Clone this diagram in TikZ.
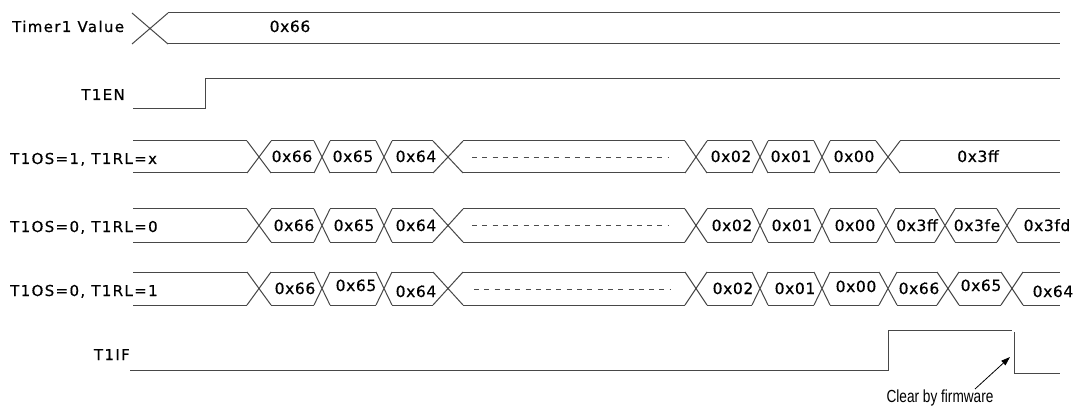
\documentclass[tikz,border=0pt]{standalone}
\usepackage{fontspec}
\setmainfont{DejaVu Sans}
\newfontfamily\lblfont{DejaVu Sans}[LetterSpace=9, FakeBold=0.5]
\newfontfamily\valfont{DejaVu Sans}[LetterSpace=4, FakeBold=0.5]
\newfontfamily\cfwfont{Liberation Sans}
\usetikzlibrary{arrows.meta}
\tikzset{
  sig/.style={draw=black!72, line width=1pt},
  lbl/.style={inner sep=0pt, font=\lblfont\fontsize{15}{18}\selectfont},
  val/.style={inner sep=0pt, anchor=base, font=\valfont\fontsize{15.5}{18}\selectfont},
  dots/.style={draw=black!70, line width=0.9pt, dash pattern=on 5pt off 5.3pt},
  note/.style={inner sep=0pt, anchor=base, font=\cfwfont\fontsize{17.5}{19}\selectfont},
  ptr/.style={draw=black, line width=0.8pt, -{Triangle[length=9pt,width=6pt]}}
}
\newcommand\busline[3]{%
  \foreach \xc/\hw [remember=\xc as \pc (initially 133), remember=\hw as \pw (initially 0)] in {#3} {
    \draw[sig] (\pc+\pw,#1) -- (\xc-\hw,#1) (\pc+\pw,#2) -- (\xc-\hw,#2);
    \ifdim\hw pt>0pt
      \draw[sig] (\xc-\hw,#1) -- (\xc+\hw,#2) (\xc-\hw,#2) -- (\xc+\hw,#1);
    \fi
  }}
\begin{document}
\begin{tikzpicture}[x=1pt,y=-1pt]
\fill[white] (0,0) rectangle (1073,406);
\useasboundingbox (0,0) rectangle (1073,406);

% labels
\node[lbl, anchor=base west] (tv) at (12,32) {Timer1 Value};
\node[lbl, anchor=base east] (ten) at (125,100) {T1EN};
\node[lbl, anchor=base west] (r1l) at (10,164) {T1OS=1, T1RL=x};
\node[lbl, anchor=base west] (r2l) at (10,232) {T1OS=0, T1RL=0};
\node[lbl, anchor=base west] (r3l) at (10,296) {T1OS=0, T1RL=1};
\node[lbl, anchor=base east] (tif) at (130,360) {T1IF};

% Timer1 Value
\draw[sig] (132,13) -- (168,44) (132,44) -- (168,13);
\draw[sig] (168,13) -- (1060,13) (168,44) -- (1060,44);
\node[val] (tv66) at (290,32) {0x66};

% T1EN
\draw[sig] (133,109) -- (205,109) -- (205,79) -- (1060,79);

% bus rows
\busline{141}{173}{259/12, 322/8, 384/8, 448/15, 696/11, 760/8, 822/8, 888/12, 1060/0}
\busline{209}{242}{259/12, 322/8, 384/8, 448/15, 696/11, 760/8, 822/8, 886/9, 945/10, 1007/10, 1060/0}
\busline{272}{305}{259/12, 322/8, 384/8, 448/15, 696/11, 760/8, 822/8, 888/9, 948/11, 1012/11, 1060/0}

\draw[dots] (472,157) -- (668,157);
\draw[dots] (472,225) -- (668,225);
\draw[dots] (474,289) -- (670,289);

% row 1 values
\foreach \xv/\tv in {292/0x66, 353/0x65, 416/0x64, 731/0x02, 791/0x01, 854/0x00, 978/0x3ff}
  \node[val] (ra\xv) at (\xv,162) {\tv};
% row 2 values
\foreach \xv/\tv in {294/0x66, 354/0x65, 416/0x64, 732/0x02, 792/0x01, 855/0x00, 917/0x3ff, 977/0x3fe, 1047/0x3fd}
  \node[val] (rb\xv) at (\xv,231) {\tv};
% row 3 values
\foreach \xv/\yv/\tv in {295/294/0x66, 356/291/0x65, 416/297/0x64, 733/294/0x02, 795/294/0x01, 856/292/0x00, 919/294/0x66, 981/291/0x65, 1053/297/0x64}
  \node[val] (rc\xv) at (\xv,\yv) {\tv};

% T1IF
\draw[sig] (130,370) -- (888,370) -- (888,330) -- (1012,330);
\draw[sig] (1014,332) -- (1014,373) -- (1060,373);

% note
\node[note] (clr) at (940,402) {\scalebox{0.78}[1]{Clear by firmware}};
\coordinate (clrtail) at (975,389);
\coordinate (clrtip) at (1010,357);
\draw[ptr] (clrtail) -- (clrtip);
\end{tikzpicture}
\end{document}
